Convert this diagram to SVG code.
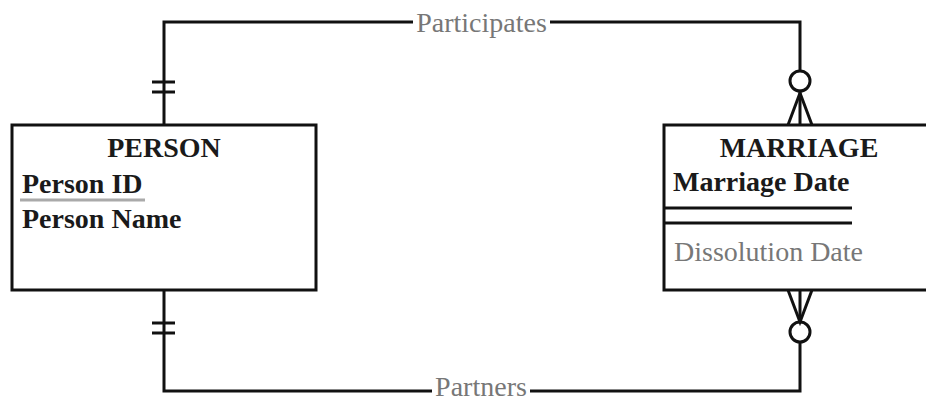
<svg xmlns="http://www.w3.org/2000/svg" width="926" height="402" viewBox="0 0 926 402">
<style>
.box{fill:#fff;stroke:#111;stroke-width:3}
.ln{fill:none;stroke:#111;stroke-width:3}
.t{font-family:"Liberation Serif","Times New Roman",serif;font-size:28px}
.b{font-weight:bold;fill:#1a1a1a}
.g{fill:#777}
</style>
<rect width="926" height="402" fill="#fff"/>
<g id="connectors">
<g id="participates">
<polyline class="ln" points="164,125 164,22 413,22"/>
<polyline class="ln" points="550,22 800,22 800,71"/>
<line class="ln" x1="152" y1="82" x2="175" y2="82"/>
<line class="ln" x1="152" y1="92" x2="175" y2="92"/>
<circle class="ln" cx="800" cy="81" r="10" fill="#fff"/>
<polyline class="ln" points="788,125 800,93 812,125"/>
<line class="ln" x1="800" y1="91" x2="800" y2="125"/>
<text class="t g" x="481.5" y="32" text-anchor="middle">Participates</text>
</g>
<g id="partners">
<polyline class="ln" points="164,290 164,391 432,391"/>
<polyline class="ln" points="530,391 800,391 800,342"/>
<line class="ln" x1="152" y1="323" x2="175" y2="323"/>
<line class="ln" x1="152" y1="333" x2="175" y2="333"/>
<circle class="ln" cx="800" cy="332" r="10" fill="#fff"/>
<polyline class="ln" points="788,290 800,322 812,290"/>
<line class="ln" x1="800" y1="290" x2="800" y2="322"/>
<text class="t g" x="481" y="396" text-anchor="middle">Partners</text>
</g>
</g>
<g id="person">
<rect class="box" x="12" y="125" width="304" height="165"/>
<text class="t b" x="164" y="157" text-anchor="middle">PERSON</text>
<text class="t b" x="22" y="193">Person ID</text>
<line x1="20" y1="200" x2="145" y2="200" stroke="#aaa" stroke-width="3"/>
<text class="t b" x="22" y="228">Person Name</text>
</g>
<g id="marriage">
<rect class="box" x="664" y="125" width="300" height="165"/>
<text class="t b" x="799" y="157" text-anchor="middle">MARRIAGE</text>
<text class="t b" x="673" y="191">Marriage Date</text>
<line class="ln" x1="664" y1="208" x2="852" y2="208"/>
<line class="ln" x1="664" y1="223" x2="852" y2="223"/>
<text class="t g" x="674" y="261">Dissolution Date</text>
</g>
</svg>
